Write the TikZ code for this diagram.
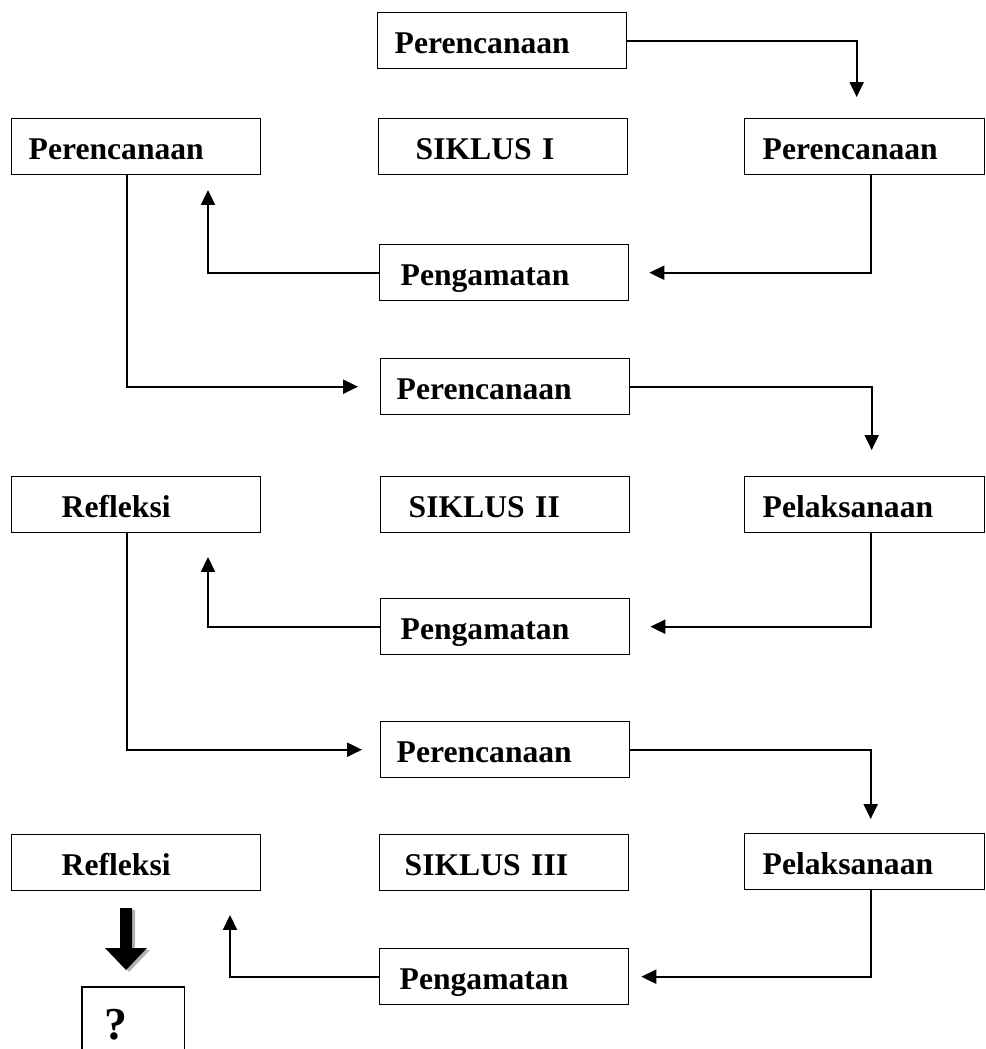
\documentclass[tikz,border=0pt]{standalone}
\usepackage{fontspec}
\setmainfont{Liberation Serif}
\usetikzlibrary{arrows.meta,calc}
\tikzstyle{kotak}=[draw, line width=0.8pt, anchor=north west, inner xsep=0pt, inner ysep=0pt, align=left, text width=4.98cm, text height=0.82cm, text depth=0.3cm, font=\fontsize{18}{20}\selectfont\bfseries]
\tikzstyle{kotakkanan}=[kotak, text width=4.8cm]
\tikzstyle{alur}=[line width=1pt, -{Triangle[width=8pt,length=8.5pt]}]
\newcommand{\geser}[2]{\hspace*{#1}#2}
\begin{document}
\begin{tikzpicture}[x=0.02cm,y=-0.02cm]
\useasboundingbox (0,0) rectangle (985,1049);
% siklus I
\node[kotak] (p0) at (377,12) {\geser{0.34cm}{Perencanaan}};
\node[kotak] (l1) at (11,118) {\geser{0.34cm}{Perencanaan}};
\node[kotak] (s1) at (378,118) {\geser{0.74cm}{SIKLUS I}};
\node[kotakkanan] (r1) at (744,118) {\geser{0.36cm}{Perencanaan}};
\node[kotak] (g1) at (379,244) {\geser{0.42cm}{Pengamatan}};
% siklus II
\node[kotak] (p2) at (380,358) {\geser{0.32cm}{Perencanaan}};
\node[kotak] (l2) at (11,476) {\geser{1.0cm}{Refleksi}};
\node[kotak] (s2) at (380,476) {\geser{0.56cm}{SIKLUS II}};
\node[kotakkanan] (r2) at (744,476) {\geser{0.36cm}{Pelaksanaan}};
\node[kotak] (g2) at (380,598) {\geser{0.4cm}{Pengamatan}};
% siklus III
\node[kotak] (p3) at (380,721) {\geser{0.32cm}{Perencanaan}};
\node[kotak] (l3) at (11,834) {\geser{1.0cm}{Refleksi}};
\node[kotak] (s3) at (379,834) {\geser{0.5cm}{SIKLUS III}};
\node[kotakkanan] (r3) at (744,833) {\geser{0.36cm}{Pelaksanaan}};
\node[kotak] (g3) at (379,948) {\geser{0.4cm}{Pengamatan}};
% kotak ? terbuka di bawah
\coordinate (dasar) at (0,1049);
\node[kotak, draw=none, text width=2.02cm, text height=1.04cm, text depth=0.08cm, font=\fontsize{26}{28}\selectfont\bfseries] (q) at (82,987) {\geser{0.44cm}{?}};
\draw[line width=0.8pt] (q.west |- dasar) -- (q.north west) -- (q.north east) -- (q.east |- dasar);

\coordinate (t3) at (208,190);
\coordinate (t7) at (208,557);
\coordinate (t11) at (230,915);

\draw[alur] (p0.east) -| ([xshift=-0.16cm,yshift=0.42cm]r1.north);
\draw[alur] ([xshift=0.12cm]r1.south) |- ([xshift=0.4cm]g1.east);
\draw[alur] (g1.west) -| (t3);
\draw[alur] ([xshift=-0.19cm]l1.south) |- ([xshift=-0.44cm]p2.west);
\draw[alur] (p2.east) -| ([xshift=0.14cm,yshift=0.52cm]r2.north);
\draw[alur] ([xshift=0.12cm]r2.south) |- ([xshift=0.4cm]g2.east);
\draw[alur] (g2.west) -| (t7);
\draw[alur] ([xshift=-0.19cm]l2.south) |- ([xshift=-0.36cm]p3.west);
\draw[alur] (p3.east) -| ([xshift=0.12cm,yshift=0.28cm]r3.north);
\draw[alur] ([xshift=0.12cm]r3.south) |- ([xshift=0.24cm]g3.east);
\draw[alur] (g3.west) -| (t11);

% panah tebal ke kotak ?
\begin{scope}[shift={(3,2)}]
\fill[black!30] (120,908) -- (132,908) -- (132,948) -- (147,948) -- (126,970) -- (105,948) -- (120,948) -- cycle;
\end{scope}
\fill[black] (120,908) -- (132,908) -- (132,948) -- (147,948) -- (126,970) -- (105,948) -- (120,948) -- cycle;
\end{tikzpicture}
\end{document}
